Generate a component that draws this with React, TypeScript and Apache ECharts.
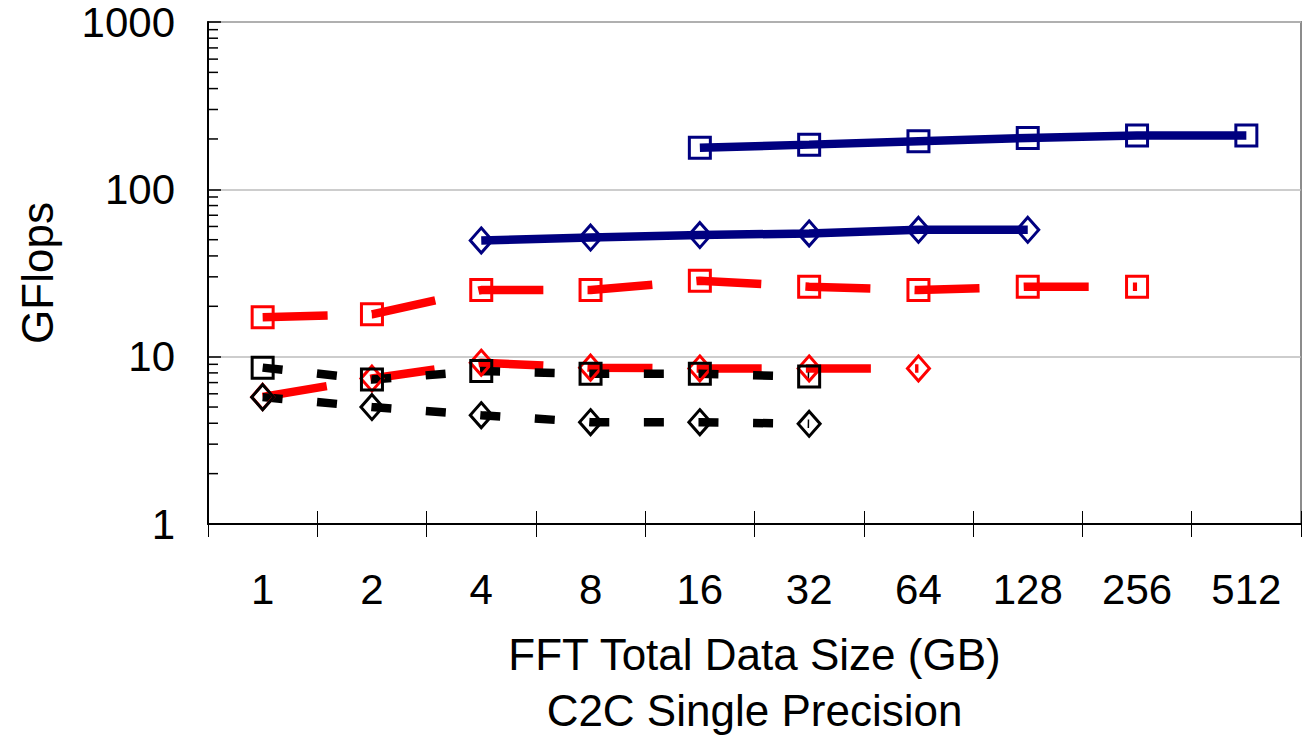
import React, { useEffect, useRef } from "react";
import * as echarts from "echarts";

const categories = ["1", "2", "4", "8", "16", "32", "64", "128", "256", "512"];

const navySquare = [null, null, null, null, 177, 185, 194, 203, 210, 210];
const navyDiamond = [null, null, 49.5, 51.5, 53.3, 54.5, 57.3, 57.3, null, null];
const redSquare = [17.2, 17.9, 25, 25, 28.4, 26.2, 25, 26.2, 26.2, null];
const redDiamond = [5.75, 7.4, 9.2, 8.6, 8.5, 8.5, 8.5, null, null, null];
const blackSquare = [8.6, 7.3, 8.2, 7.9, 7.9, 7.6, null, null, null, null];
const blackDiamond = [5.73, 5.0, 4.47, 4.06, 4.06, 3.97, null, null, null, null];

const minorTickValues = [
  2, 3, 4, 5, 6, 7, 8, 9,
  20, 30, 40, 50, 60, 70, 80, 90,
  200, 300, 400, 500, 600, 700, 800, 900,
];

const FONT = "'Liberation Sans', Arial, sans-serif";

function lineSeries(
  name: string,
  data: (number | null)[],
  color: string,
  symbol: string,
  symbolSize: number | number[],
  dash: number[] | "solid"
) {
  return {
    name,
    type: "line",
    data,
    symbol,
    symbolSize,
    showSymbol: true,
    connectNulls: false,
    lineStyle: { color, width: 8.5, type: dash, cap: "butt" },
    itemStyle: { color: "rgba(0,0,0,0)", borderColor: color, borderWidth: 3 },
    z: 3,
  };
}

export default function App() {
  const ref = useRef<HTMLDivElement>(null);
  useEffect(() => {
    if (!ref.current) return;
    const chart = echarts.init(ref.current, null, { renderer: "svg" });
    const redDash = [65, 44.2];
    const blackDash = [20, 34.6];
    chart.setOption({
      animation: false,
      backgroundColor: "#ffffff",
      textStyle: { fontFamily: FONT },
      grid: {
        left: 208,
        right: 6,
        top: 22,
        bottom: 213,
        show: true,
        borderColor: "#8c8c8c",
        borderWidth: 2,
      },
      xAxis: [
        {
          type: "category",
          data: categories,
          position: "bottom",
          boundaryGap: true,
          axisLine: { show: true, lineStyle: { color: "#000", width: 2 } },
          axisTick: { show: true, length: 13, inside: false, lineStyle: { color: "#000", width: 1 } },
          axisLabel: { fontSize: 42, color: "#000", margin: 44, fontFamily: FONT },
          splitLine: { show: false },
          name: "FFT Total Data Size (GB)\nC2C Single Precision",
          nameLocation: "middle",
          nameGap: 102,
          nameTextStyle: { fontSize: 44, color: "#000", lineHeight: 56, fontFamily: FONT },
        },
        {
          type: "category",
          data: categories,
          position: "bottom",
          boundaryGap: true,
          axisLine: { show: false },
          axisTick: { show: true, length: 13, inside: true, lineStyle: { color: "#000", width: 1 } },
          axisLabel: { show: false },
          splitLine: { show: false },
        },
      ],
      yAxis: {
        type: "log",
        logBase: 10,
        min: 1,
        max: 1000,
        axisLine: { show: true, lineStyle: { color: "#000", width: 2 } },
        axisTick: { show: true, inside: true, length: 13, lineStyle: { color: "#000", width: 1.5 } },
        axisLabel: {
          fontSize: 42,
          color: "#000",
          margin: 33,
          fontFamily: FONT,
          formatter: (v: number) => String(Math.round(v)),
        },
        splitLine: { show: true, lineStyle: { color: "#bdbdbd", width: 1.5 } },
        name: "GFlops",
        nameLocation: "middle",
        nameRotate: 90,
        nameGap: 149,
        nameTextStyle: { fontSize: 44, color: "#000", fontFamily: FONT },
      },
      series: [
        {
          type: "custom",
          data: minorTickValues.map((v) => [0, v]),
          renderItem: (params: any, api: any) => {
            const pt = api.coord([0, api.value(1)]);
            const x0 = params.coordSys.x;
            return {
              type: "line",
              shape: { x1: x0, y1: pt[1], x2: x0 + 10, y2: pt[1] },
              style: { stroke: "#000", lineWidth: 1.5 },
            };
          },
          silent: true,
          z: 2,
        },
        lineSeries("Navy square", navySquare, "#000080", "rect", 21, "solid"),
        lineSeries("Navy diamond", navyDiamond, "#000080", "diamond", [22, 25], "solid"),
        lineSeries("Red square", redSquare, "#ff0000", "rect", 21, redDash),
        lineSeries("Red diamond", redDiamond, "#ff0000", "diamond", [22, 25], redDash),
        lineSeries("Black square", blackSquare, "#000000", "rect", 21, blackDash),
        lineSeries("Black diamond", blackDiamond, "#000000", "diamond", [22, 25], blackDash),
      ],
    });
    return () => chart.dispose();
  }, []);
  return (
    <div
      ref={ref}
      style={{ position: "fixed", left: 0, top: 0, width: 1307, height: 743, background: "#fff" }}
    />
  );
}
